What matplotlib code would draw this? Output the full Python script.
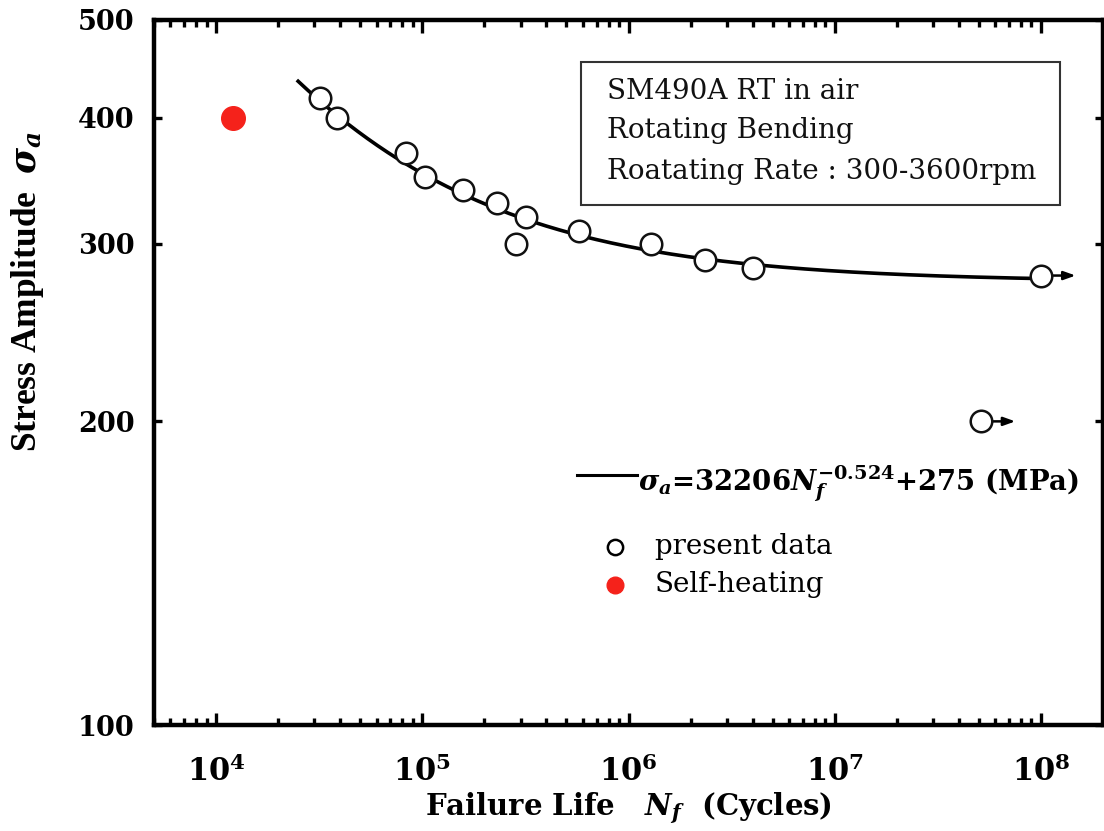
import numpy as np
import matplotlib
matplotlib.use("Agg")
import matplotlib.pyplot as plt
from matplotlib import transforms
from matplotlib.patches import Rectangle
from matplotlib.ticker import FixedLocator, LogLocator, NullFormatter, NullLocator

# ---- data ----
present_N = [3.2e4, 3.85e4, 8.3e4, 1.03e5, 1.58e5, 2.3e5, 3.2e5, 2.85e5,
             5.75e5, 1.29e6, 2.35e6, 4.0e6]
present_S = [418, 400, 369, 349, 339, 329, 319, 300, 309, 300, 289, 284]
runout_N = [1.0e8, 5.1e7]
runout_S = [279, 200]
selfheat_N = [1.21e4]
selfheat_S = [400]
fit_A = 32206
fit_b = -0.524
fit_c = 275
fit_Nmin, fit_Nmax = 2.5e4, 1.0e8
y_ticks = [100, 200, 300, 400, 500]
x_ticks = [1e4, 1e5, 1e6, 1e7, 1e8]
x_ticklabels = [r"$\mathbf{10^{4}}$", r"$\mathbf{10^{5}}$", r"$\mathbf{10^{6}}$",
                r"$\mathbf{10^{7}}$", r"$\mathbf{10^{8}}$"]
box_lines = ["SM490A RT in air", "Rotating Bending", "Roatating Rate : 300-3600rpm"]

plt.rcParams['mathtext.fontset'] = 'custom'
plt.rcParams['mathtext.rm'] = 'DejaVu Serif:bold'
plt.rcParams['mathtext.bf'] = 'DejaVu Serif:bold'
plt.rcParams['mathtext.it'] = 'DejaVu Serif:italic:bold'
plt.rcParams['font.family'] = 'DejaVu Serif'

fig = plt.figure(figsize=(11.04, 8.31), dpi=100)
ax = fig.add_axes([154/1104, 106/831, 949/1104, 705/831])
ax.set_xscale('log')
ax.set_yscale('log')
ax.set_xlim(5e3, 2e8)
ax.set_ylim(100, 500)

# fit curve
Nf = np.logspace(np.log10(fit_Nmin), np.log10(fit_Nmax), 300)
ax.plot(Nf, fit_A * Nf ** fit_b + fit_c, color='black', lw=2.6, zorder=2)

# markers
ax.plot(present_N, present_S, 'o', ms=15.5, mfc='white', mec='#111111', mew=1.8, zorder=4, ls='none')
ax.plot(runout_N, runout_S, 'o', ms=15.5, mfc='white', mec='#111111', mew=1.8, zorder=4, ls='none')
ax.plot(selfheat_N, selfheat_S, 'o', ms=17, mfc='#f5221b', mec='#f5221b', zorder=4, ls='none')

# runout arrows
for n, s in zip(runout_N, runout_S):
    tip = transforms.offset_copy(ax.transData, fig=fig, x=25, y=0, units='points')
    ax.annotate('', xy=(n, s), xycoords=tip, xytext=(n, s), textcoords='data',
                arrowprops=dict(arrowstyle='-|>,head_length=0.7,head_width=0.25', color='black',
                                lw=1.8, shrinkA=7, shrinkB=0), zorder=3)

# ticks
ax.yaxis.set_major_locator(FixedLocator(y_ticks))
ax.yaxis.set_minor_locator(NullLocator())
ax.set_yticklabels([str(v) for v in y_ticks])
ax.xaxis.set_major_locator(FixedLocator(x_ticks))
ax.set_xticklabels(x_ticklabels)
ax.xaxis.set_minor_locator(LogLocator(base=10, subs=np.arange(2, 10)))
ax.xaxis.set_minor_formatter(NullFormatter())
ax.tick_params(which='both', direction='in', top=True, right=True, width=2.4, color='black')
ax.tick_params(axis='x', which='major', length=9, labelsize=22, pad=22)
ax.tick_params(axis='x', which='minor', length=5)
ax.tick_params(axis='y', which='major', length=6, labelsize=19.5, pad=14)
for lab in ax.get_yticklabels():
    lab.set_fontweight('bold')
for sp in ax.spines.values():
    sp.set_linewidth(3.2)

# axis labels
ax.set_xlabel(r"Failure Life   $N_{f}$  (Cycles)", fontsize=21, fontweight='bold', labelpad=2)
fig.text(28/1104, 1 - 292/831, r"Stress Amplitude  $\sigma_{a}$", rotation=90, ha='center', va='center',
         fontsize=25.5, fontweight='bold', family='Liberation Serif')

# info box
ax.add_patch(Rectangle((0.450, 0.7376), 0.9547 - 0.450, 0.9404 - 0.7376, transform=ax.transAxes,
                       fill=False, ec='#333333', lw=1.5, zorder=5))
for txt, yy in zip(box_lines, [0.898, 0.8426, 0.7844]):
    ax.text(0.4773, yy, txt, transform=ax.transAxes, fontsize=20, va='center', ha='left',
            color='#111111', fontweight='medium')

# legend (manual)
ax.plot([0.4457, 0.5090], [0.3546, 0.3546], transform=ax.transAxes, color='black', lw=2.2)
ax.text(0.510, 0.3305, r"$\mathit{\sigma}_{a}$=32206$\mathit{N}_{f}^{-0.524}$+275 (MPa)",
        transform=ax.transAxes, fontsize=19.8, va='baseline', ha='left', fontweight='bold')
ax.plot([0.4858], [0.2525], 'o', transform=ax.transAxes, ms=11, mfc='white', mec='black', mew=1.8)
ax.text(0.528, 0.2525, "present data", transform=ax.transAxes, fontsize=20, va='center', ha='left')
ax.plot([0.4858], [0.1986], 'o', transform=ax.transAxes, ms=12, mfc='#f5221b', mec='#f5221b')
ax.text(0.528, 0.1986, "Self-heating", transform=ax.transAxes, fontsize=20, va='center', ha='left')

fig.savefig("out.png", dpi=100)
